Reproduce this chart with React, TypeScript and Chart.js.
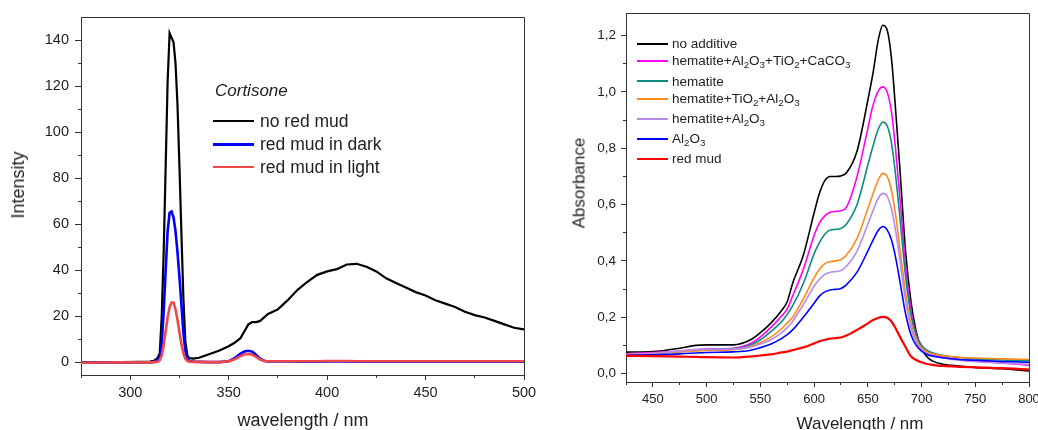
import React, { useEffect, useRef } from "react";
import { Chart, registerables } from "chart.js";

Chart.register(...registerables);

// ---------------- Left panel: fluorescence (Cortisone) ----------------
const fluorWavelength = [
  275, 285, 295, 305, 310, 312, 314, 315, 316, 317, 318, 319, 320, 321, 322, 323, 324, 325, 326, 327,
  328, 329, 330, 332, 335, 340, 345, 350, 353, 356, 358, 360, 362, 364, 366, 368, 370, 375, 380, 385,
  390, 395, 400, 405, 410, 415, 420, 425, 430, 435, 440, 445, 450, 455, 460, 465, 470, 475, 480, 485,
  490, 495, 500,
];
const noRedMud = [
  0, 0, 0.1, 0.2, 0.3, 0.6, 2, 4, 20, 48, 85, 122, 143, 141, 139, 130, 112, 85, 56, 28,
  9, 3, 1.8, 1.6, 2, 3.5, 5, 7, 8.5, 10.5, 13.5, 16.5, 17.5, 17.5, 18, 19.5, 21, 23, 27, 31.5,
  35, 38, 39.5, 40.5, 42.5, 42.8, 41.5, 39.5, 36.5, 34.5, 32.5, 30.5, 29, 27, 25.5, 24, 22, 20.5, 19.5, 18,
  16.5, 15, 14.3,
];
const redMudDark = [
  0, 0, 0, 0, 0, 0.2, 1, 2, 8, 22, 40, 57, 65, 65.5, 63, 57, 48, 37, 25, 13,
  5, 1.5, 0.6, 0.3, 0.2, 0.1, 0.1, 0.5, 1.8, 3.8, 4.7, 5, 4.6, 3.2, 1.6, 0.7, 0.4, 0.4, 0.4, 0.3,
  0.3, 0.3, 0.4, 0.4, 0.4, 0.3, 0.3, 0.3, 0.3, 0.3, 0.3, 0.3, 0.3, 0.3, 0.3, 0.3, 0.3, 0.3, 0.3, 0.4,
  0.3, 0.3, 0.3,
];
const redMudLight = [
  -0.2, -0.1, 0, 0, 0, 0.1, 0.4, 1, 3, 7.5, 13.5, 19.5, 24, 26, 26, 23, 18.5, 13, 8, 4,
  1.5, 0.6, 0.3, 0.2, 0.2, 0.1, 0.1, 0.4, 1.3, 2.7, 3.4, 3.6, 3.3, 2.4, 1.2, 0.6, 0.5, 0.5, 0.5, 0.5,
  0.5, 0.5, 0.6, 0.6, 0.6, 0.5, 0.5, 0.5, 0.5, 0.5, 0.5, 0.5, 0.5, 0.5, 0.5, 0.5, 0.5, 0.5, 0.5, 0.5,
  0.5, 0.5, 0.5,
];
const fluorSeriesNames = ["no red mud", "red mud in dark", "red mud in light"];
const fluorColors = ["#000000", "#0000ff", "#f04848"];
const fluorXTicks = [300, 350, 400, 450, 500];
const fluorXMinor = [275, 325, 375, 425, 475];
const fluorYTicks = [0, 20, 40, 60, 80, 100, 120, 140];
const fluorYMinor = [10, 30, 50, 70, 90, 110, 130];

// ---------------- Right panel: absorbance ----------------
const absWavelength = [
  425, 450, 475, 490, 500, 525, 540, 550, 560, 570, 575, 580, 590, 600, 605, 610, 615, 620, 625, 630,
  640, 650, 655, 660, 664, 668, 672, 676, 680, 685, 690, 695, 700, 705, 710, 720, 735, 750, 775, 800,
];
const absNoAdditive = [
  0.076, 0.078, 0.09, 0.1, 0.102, 0.102, 0.118, 0.145, 0.18, 0.225, 0.255, 0.32, 0.42, 0.57, 0.64, 0.685, 0.7, 0.7, 0.702, 0.712,
  0.79, 0.97, 1.07, 1.19, 1.237, 1.22, 1.12, 0.93, 0.72, 0.44, 0.26, 0.15, 0.09, 0.06, 0.045, 0.033, 0.027, 0.022, 0.017, 0.009,
];
const absHematiteAll = [
  0.07, 0.075, 0.08, 0.085, 0.087, 0.09, 0.105, 0.13, 0.165, 0.205, 0.23, 0.275, 0.37, 0.49, 0.535, 0.56, 0.573, 0.576, 0.578, 0.59,
  0.7, 0.87, 0.955, 1.005, 1.018, 1.0, 0.93, 0.79, 0.62, 0.39, 0.23, 0.14, 0.1, 0.08, 0.07, 0.058, 0.05, 0.045, 0.038, 0.03,
];
const absHematite = [
  0.062, 0.07, 0.078, 0.082, 0.085, 0.088, 0.1, 0.12, 0.15, 0.185, 0.21, 0.24, 0.32, 0.425, 0.465, 0.495, 0.51, 0.512, 0.515, 0.53,
  0.6, 0.74, 0.81, 0.87, 0.893, 0.88, 0.82, 0.7, 0.55, 0.35, 0.21, 0.135, 0.1, 0.083, 0.074, 0.064, 0.057, 0.052, 0.048, 0.045,
];
const absHematiteTiAl = [
  0.068, 0.072, 0.078, 0.08, 0.082, 0.085, 0.095, 0.11, 0.13, 0.16, 0.18, 0.2, 0.265, 0.34, 0.37, 0.39, 0.398, 0.4, 0.405, 0.42,
  0.48, 0.585, 0.64, 0.69, 0.711, 0.7, 0.65, 0.56, 0.44, 0.29, 0.18, 0.12, 0.092, 0.078, 0.07, 0.063, 0.058, 0.055, 0.052, 0.05,
];
const absHematiteAl = [
  0.068, 0.072, 0.08, 0.085, 0.086, 0.087, 0.093, 0.105, 0.12, 0.145, 0.163, 0.185, 0.245, 0.31, 0.335, 0.352, 0.36, 0.362, 0.366, 0.38,
  0.435, 0.53, 0.58, 0.625, 0.64, 0.63, 0.585, 0.505, 0.4, 0.265, 0.165, 0.11, 0.085, 0.072, 0.064, 0.055, 0.047, 0.042, 0.037, 0.033,
];
const absAl2O3 = [
  0.065, 0.067, 0.07, 0.073, 0.075, 0.077, 0.082, 0.092, 0.105, 0.125, 0.138, 0.155, 0.2, 0.25, 0.275, 0.29, 0.297, 0.299, 0.302, 0.315,
  0.36, 0.435, 0.475, 0.51, 0.522, 0.51, 0.475, 0.41, 0.325, 0.215, 0.14, 0.1, 0.08, 0.068, 0.062, 0.056, 0.05, 0.047, 0.043, 0.04,
];
const absRedMud = [
  0.063, 0.062, 0.06, 0.059, 0.058, 0.057, 0.06, 0.064, 0.068, 0.075, 0.078, 0.083, 0.093, 0.107, 0.115, 0.12, 0.124, 0.126, 0.128, 0.135,
  0.155, 0.178, 0.19, 0.198, 0.201, 0.198, 0.185, 0.16, 0.13, 0.095, 0.062, 0.048, 0.04, 0.034, 0.031, 0.027, 0.024, 0.022, 0.019, 0.014,
];
const absSeriesNames = [
  "no additive",
  "hematite+Al_2O_3+TiO_2+CaCO_3",
  "hematite",
  "hematite+TiO_2+Al_2O_3",
  "hematite+Al_2O_3",
  "Al_2O_3",
  "red mud",
];
const absSeries = [absNoAdditive, absHematiteAll, absHematite, absHematiteTiAl, absHematiteAl, absAl2O3, absRedMud];
const absColors = ["#000000", "#ff00ff", "#0e8a82", "#ff8a1a", "#b98ae8", "#0000ff", "#ff0000"];
const absXTicks = [450, 500, 550, 600, 650, 700, 750, 800];
const absXMinor = [425, 475, 525, 575, 625, 675, 725, 775];
const absYTicks = [0, 0.2, 0.4, 0.6, 0.8, 1.0, 1.2];
const absYMinor = [0.1, 0.3, 0.5, 0.7, 0.9, 1.1];

// ---------------- styling ----------------
const FONT = '"Liberation Sans", Arial, Helvetica, sans-serif';
const AXIS = "#333333";
const TEXT = "#222222";

const align = (v: number) => Math.round(v - 0.5) + 0.5;

function makeFramePlugin(xMinor: number[], yMinor: number[], minorLen: number) {
  return {
    id: "frameMinor",
    afterDraw(chart: any) {
      const { ctx, chartArea: a, scales } = chart;
      ctx.save();
      ctx.strokeStyle = AXIS;
      ctx.lineWidth = 1;
      ctx.beginPath();
      const top = align(a.top);
      const right = align(a.right);
      ctx.moveTo(align(a.left), top);
      ctx.lineTo(right, top);
      ctx.lineTo(right, align(a.bottom));
      for (const v of xMinor) {
        const px = align(scales.x.getPixelForValue(v));
        ctx.moveTo(px, a.bottom);
        ctx.lineTo(px, a.bottom + minorLen);
      }
      for (const v of yMinor) {
        const py = align(scales.y.getPixelForValue(v));
        ctx.moveTo(a.left, py);
        ctx.lineTo(a.left - minorLen, py);
      }
      ctx.stroke();
      ctx.restore();
    },
  };
}

function renderName(name: string) {
  const parts = name.split(/_(\d)/);
  return parts.map((p, i) =>
    i % 2 === 1 ? (
      <sub key={i} style={{ fontSize: "0.72em", verticalAlign: "-0.32em", lineHeight: 0 }}>
        {p}
      </sub>
    ) : (
      <span key={i}>{p}</span>
    )
  );
}

const LEFT_W = 545;
const RIGHT_X = 545;
const RIGHT_W = 515;

export default function App() {
  const leftRef = useRef<HTMLCanvasElement>(null);
  const rightRef = useRef<HTMLCanvasElement>(null);

  useEffect(() => {
    const fluorData = [noRedMud, redMudDark, redMudLight];
    const left = new Chart(leftRef.current as HTMLCanvasElement, {
      type: "line",
      data: {
        datasets: fluorData.map((arr, i) => ({
          label: fluorSeriesNames[i],
          data: fluorWavelength.map((x, j) => ({ x, y: arr[j] })),
          borderColor: fluorColors[i],
          borderWidth: i === 0 ? 2.2 : 2.6,
          pointRadius: 0,
          tension: 0,
          order: 2 - i,
        })),
      },
      options: {
        animation: false,
        responsive: false,
        maintainAspectRatio: false,
        layout: { padding: { left: 0, top: 17, right: 21, bottom: 0 } },
        plugins: { legend: { display: false }, tooltip: { enabled: false } },
        scales: {
          x: {
            type: "linear",
            min: 275,
            max: 500,
            afterFit: (s: any) => {
              s.height = 55;
            },
            afterBuildTicks: (s: any) => {
              s.ticks = fluorXTicks.map((v) => ({ value: v }));
            },
            grid: { drawOnChartArea: false, drawTicks: true, tickLength: 5, color: AXIS },
            border: { display: true, color: AXIS, width: 1 },
            ticks: { font: { family: FONT, size: 14.5 }, color: TEXT, padding: 4, maxRotation: 0, autoSkip: false },
          },
          y: {
            type: "linear",
            min: -5.5,
            max: 150,
            afterFit: (s: any) => {
              s.width = 81;
            },
            afterBuildTicks: (s: any) => {
              s.ticks = fluorYTicks.map((v) => ({ value: v }));
            },
            grid: { drawOnChartArea: false, drawTicks: true, tickLength: 6, color: AXIS },
            border: { display: true, color: AXIS, width: 1 },
            ticks: { font: { family: FONT, size: 14.5 }, color: TEXT, padding: 6, autoSkip: false },
          },
        },
      } as any,
      plugins: [makeFramePlugin(fluorXMinor, fluorYMinor, 3)],
    });

    const right = new Chart(rightRef.current as HTMLCanvasElement, {
      type: "line",
      data: {
        datasets: absSeries.map((arr, i) => ({
          label: absSeriesNames[i],
          data: absWavelength.map((x, j) => ({ x, y: arr[j] })),
          borderColor: absColors[i],
          borderWidth: i === 6 ? 2.2 : 1.6,
          pointRadius: 0,
          cubicInterpolationMode: "monotone",
          order: 6 - i,
        })),
      },
      options: {
        animation: false,
        responsive: false,
        maintainAspectRatio: false,
        layout: { padding: { left: 0, top: 12, right: 31, bottom: 0 } },
        plugins: { legend: { display: false }, tooltip: { enabled: false } },
        scales: {
          x: {
            type: "linear",
            min: 425,
            max: 800,
            afterFit: (s: any) => {
              s.height = 48;
            },
            afterBuildTicks: (s: any) => {
              s.ticks = absXTicks.map((v) => ({ value: v }));
            },
            grid: { drawOnChartArea: false, drawTicks: true, tickLength: 5, color: AXIS },
            border: { display: true, color: AXIS, width: 1 },
            ticks: { font: { family: FONT, size: 13 }, color: TEXT, padding: 5, maxRotation: 0, autoSkip: false },
          },
          y: {
            type: "linear",
            min: -0.03,
            max: 1.28,
            afterFit: (s: any) => {
              s.width = 81;
            },
            afterBuildTicks: (s: any) => {
              s.ticks = absYTicks.map((v) => ({ value: v }));
            },
            grid: { drawOnChartArea: false, drawTicks: true, tickLength: 5, color: AXIS },
            border: { display: true, color: AXIS, width: 1 },
            ticks: {
              font: { family: FONT, size: 13.5 },
              color: TEXT,
              padding: 5,
              autoSkip: false,
              callback: (v: any) => Number(v).toFixed(1).replace(".", ","),
            },
          },
        },
      } as any,
      plugins: [makeFramePlugin(absXMinor, absYMinor, 3)],
    });

    return () => {
      left.destroy();
      right.destroy();
    };
  }, []);

  const abs = (extra: React.CSSProperties): React.CSSProperties => ({
    position: "absolute",
    whiteSpace: "nowrap",
    color: TEXT,
    fontFamily: FONT,
    ...extra,
  });

  const leftRows = [112.1, 134.8, 157.5];
  const rightRows = [48.5, 65.5, 86, 103.5, 123.5, 143.5, 163.5];

  return (
    <div
      style={{
        position: "absolute",
        left: 0,
        top: 0,
        width: 1038,
        height: 430,
        overflow: "hidden",
        background: "#ffffff",
      }}
    >
      <canvas ref={leftRef} width={LEFT_W} height={430} style={{ position: "absolute", left: 0, top: 0 }} />
      <canvas ref={rightRef} width={RIGHT_W} height={430} style={{ position: "absolute", left: RIGHT_X, top: 0 }} />

      {/* left panel texts */}
      <div style={abs({ left: 303, top: 410.8, fontSize: 18, lineHeight: "18px", transform: "translateX(-50%)" })}>
        wavelength / nm
      </div>
      <div
        style={abs({
          left: 18.4,
          top: 185,
          fontSize: 18,
          lineHeight: "18px",
          transform: "translate(-50%, -50%) rotate(-90deg)",
        })}
      >
        Intensity
      </div>
      <div style={abs({ left: 215, top: 82.3, fontSize: 17, lineHeight: "17px", fontStyle: "italic" })}>Cortisone</div>
      {fluorSeriesNames.map((name, i) => (
        <React.Fragment key={name}>
          <div
            style={{
              position: "absolute",
              left: 213,
              top: leftRows[i] + 15 - 6.8,
              width: 41,
              height: i === 0 ? 2.2 : 2.6,
              background: fluorColors[i],
            }}
          />
          <div style={abs({ left: 260, top: leftRows[i], fontSize: 17.5, lineHeight: "18px" })}>{name}</div>
        </React.Fragment>
      ))}

      {/* right panel texts */}
      <div style={abs({ left: 860, top: 414.6, fontSize: 17, lineHeight: "17px", transform: "translateX(-50%)" })}>
        Wavelength / nm
      </div>
      <div
        style={abs({
          left: 579,
          top: 183.3,
          fontSize: 17,
          lineHeight: "17px",
          transform: "translate(-50%, -50%) rotate(-90deg)",
        })}
      >
        Absorbance
      </div>
      {absSeriesNames.map((name, i) => (
        <React.Fragment key={name}>
          <div
            style={{
              position: "absolute",
              left: 637,
              top: rightRows[i] - 6,
              width: 31,
              height: i === 6 ? 2.4 : 2,
              background: absColors[i],
            }}
          />
          <div style={abs({ left: 672, top: rightRows[i] - 11.4, fontSize: 13.5, lineHeight: "13.5px" })}>
            {renderName(name)}
          </div>
        </React.Fragment>
      ))}
    </div>
  );
}
